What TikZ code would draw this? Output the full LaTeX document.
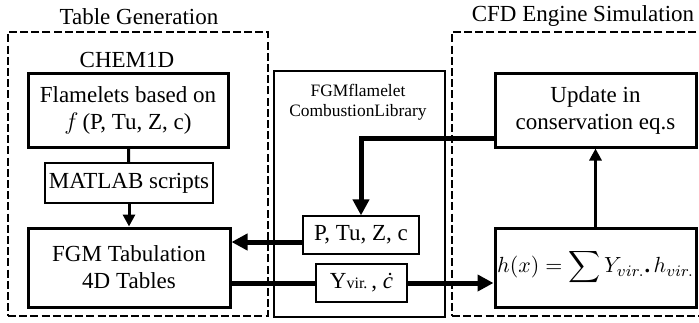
\documentclass[tikz,border=0pt]{standalone}
\usepackage{amsmath,amssymb}
\usepackage{fontspec}
\setmainfont{Liberation Serif}
\usepackage{tikz}
\usetikzlibrary{arrows.meta,positioning}

\begin{document}
\begin{tikzpicture}[
  x=0.5pt,y=-0.5pt,
  font=\fontsize{11.5}{13.5}\selectfont,
  frame/.style={draw,line width=1pt,dash pattern=on 4pt off 1.6pt,inner sep=0pt},
  libframe/.style={draw,line width=1.4pt,inner sep=0pt},
  box/.style={draw,line width=1.5pt,align=center,inner sep=1pt},
  tag/.style={draw,line width=0.6pt,align=center,inner sep=1pt},
  link/.style={line width=1.5pt},
  feed/.style={-{Triangle[length=6pt,width=6pt]},line width=1.5pt},
  pipe/.style={-{Triangle[length=8pt,width=8pt]},line width=2.5pt},
  bar/.style={line width=2.5pt}
]
\useasboundingbox (0,0) rectangle (699,322);
% group frames
\node[frame,minimum width=130pt,minimum height=142pt] (genframe) at (138,174) {};
\node[frame,minimum width=130pt,minimum height=142pt] (cfdframe) at (582,174) {};
\node[libframe,minimum width=85.5pt,minimum height=123pt] (libframe) at (359.5,194) {};
\node (gentitle) at (139,17) {Table Generation};
\node (cfdtitle) at (583,16) {CFD Engine Simulation};
\node (chem) at (127,60) {CHEM1D};
\node[align=center,font=\fontsize{8.7}{10}\selectfont] (libname) at (358,102)
  {FGMflamelet\\CombustionLibrary};
% table generation side
\node[box,minimum width=100pt,minimum height=37pt] (flame) at (128,110)
  {Flamelets based on\\$f\,$(P, Tu, Z, c)};
\node[tag,minimum width=84pt,minimum height=20pt] (matlab) at (129,183) {MATLAB scripts};
\node[box,minimum width=101pt,minimum height=39.5pt] (tab) at (129,267.5)
  {FGM Tabulation\\4D Tables};
% library
\node[tag,minimum width=58pt,minimum height=19pt] (ptuzc) at (361,235) {P, Tu, Z, c};
\node[tag,minimum width=45.5pt,minimum height=19pt] (yc) at (361.5,283)
  {Y{\fontsize{8}{9}\selectfont vir.}\,, {\itshape ċ}};
% cfd side
\node[box,minimum width=100.5pt,minimum height=37pt] (update) at (595.5,110)
  {Update in\\conservation eq.s};
\node[box,minimum width=100.5pt,minimum height=39.5pt,inner sep=0pt,
      font=\fontsize{11.1}{13}\selectfont] (hx) at (595.5,267.5)
  {$h(x)=\displaystyle\sum Y_{vir.}\textbf{.}\,h_{vir.}$};
% connectors
\coordinate (bend) at (361,138);
\coordinate (pin) at ([yshift=-3.5pt]ptuzc.west);
\draw[link] (flame) -- (matlab);
\draw[feed] (matlab) -- (tab);
\draw[pipe] (update.west |- bend) -- (bend) -- (ptuzc);
\draw[pipe] (pin) -- (pin -| tab.east);
\draw[bar] (yc.west) -- (yc.west -| tab.east);
\draw[pipe] (yc.east) -- (yc.east -| hx.west);
\draw[feed] (hx) -- (update);
\end{tikzpicture}
\end{document}
